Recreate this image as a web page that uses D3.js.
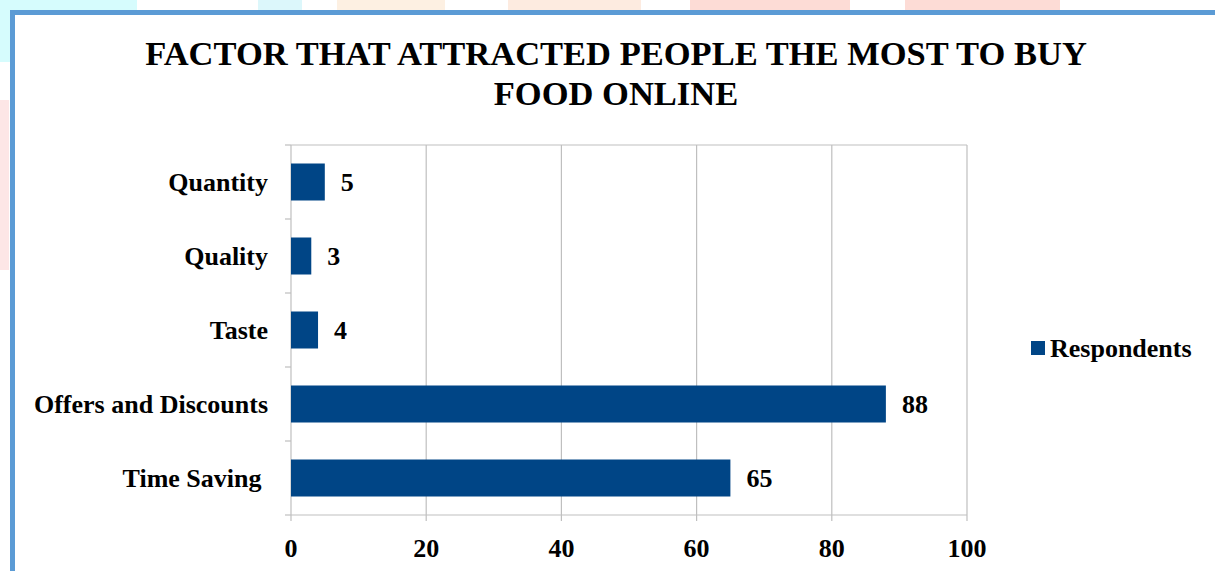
<!DOCTYPE html>
<html>
<head>
<meta charset="utf-8">
<script src="https://cdn.jsdelivr.net/npm/d3@7"></script>
<style>
  html, body { margin: 0; padding: 0; background: #ffffff; }
  svg { display: block; }
  text { font-family: "Liberation Serif", "Times New Roman", serif; font-weight: bold; fill: #000; }
</style>
</head>
<body>
<svg id="chart" width="1215" height="571"></svg>
<script>
// Chart data
const categories = ["Quantity", "Quality", "Taste", "Offers and Discounts", "Time Saving "];
const respondents = [5, 3, 4, 88, 65];
const xTicks = [0, 20, 40, 60, 80, 100];
const titleLines = ["FACTOR THAT ATTRACTED PEOPLE THE MOST TO BUY", "FOOD ONLINE"];
const seriesName = "Respondents";

const svg = d3.select("#chart");
const W = 1215, H = 571;

// faint decorative shapes peeking around the frame
const deco = [
  {x: 0, y: 0, w: 137, h: 10, c: "#d6fcfd"},
  {x: 0, y: 0, w: 10, h: 62, c: "#d6fcfd"},
  {x: 258, y: 0, w: 44, h: 10, c: "#dcf7fb"},
  {x: 337, y: 0, w: 108, h: 10, c: "#fdf0e2"},
  {x: 508, y: 0, w: 133, h: 10, c: "#fdebe0"},
  {x: 690, y: 0, w: 160, h: 10, c: "#fddcd6"},
  {x: 905, y: 0, w: 155, h: 10, c: "#fddcd6"},
  {x: 0, y: 100, w: 9, h: 170, c: "#fde6e6"}
];
svg.selectAll("rect.deco").data(deco).join("rect")
  .attr("class", "deco")
  .attr("x", d => d.x).attr("y", d => d.y)
  .attr("width", d => d.w).attr("height", d => d.h)
  .attr("fill", d => d.c);

// blue frame (top and left edges)
svg.append("rect").attr("x", 10).attr("y", 10).attr("width", W - 10).attr("height", 5).attr("fill", "#5b9bd5");
svg.append("rect").attr("x", 10).attr("y", 10).attr("width", 5).attr("height", H - 10).attr("fill", "#5b9bd5");

// title
svg.append("text")
  .attr("x", 616).attr("y", 65)
  .attr("text-anchor", "middle")
  .style("font-size", "34.5px")
  .selectAll("tspan").data(titleLines).join("tspan")
  .attr("x", 616).attr("dy", (d, i) => i === 0 ? 0 : 40)
  .text(d => d);

// plot area
const plot = {left: 291, right: 967, top: 145, bottom: 515};

const x = d3.scaleLinear().domain([0, 100]).range([plot.left, plot.right]);
const y = d3.scaleBand().domain(categories).range([plot.top, plot.bottom]).paddingInner(0.5).paddingOuter(0.25);

const grid = "#bfbfbf";

// vertical gridlines
svg.append("g").selectAll("line").data(xTicks).join("line")
  .attr("x1", d => x(d)).attr("x2", d => x(d))
  .attr("y1", plot.top).attr("y2", plot.bottom + 6)
  .attr("stroke", grid).attr("stroke-width", 1.2);

// plot top border
svg.append("line")
  .attr("x1", plot.left).attr("x2", plot.right)
  .attr("y1", plot.top).attr("y2", plot.top)
  .attr("stroke", grid).attr("stroke-width", 1.2);

// category axis ticks (band boundaries)
const bandEdges = d3.range(categories.length + 1).map(i => plot.top + i * (plot.bottom - plot.top) / categories.length);
svg.append("g").selectAll("line").data(bandEdges).join("line")
  .attr("x1", plot.left - 6).attr("x2", plot.left)
  .attr("y1", d => d).attr("y2", d => d)
  .attr("stroke", grid).attr("stroke-width", 1.2);

// bottom axis line
svg.append("line")
  .attr("x1", plot.left).attr("x2", plot.right)
  .attr("y1", plot.bottom).attr("y2", plot.bottom)
  .attr("stroke", grid).attr("stroke-width", 1.2);

// bars
svg.append("g").selectAll("rect").data(categories).join("rect")
  .attr("x", x(0))
  .attr("y", d => y(d))
  .attr("width", (d, i) => x(respondents[i]) - x(0))
  .attr("height", y.bandwidth())
  .attr("fill", "#004586");

// value labels
svg.append("g").selectAll("text").data(categories).join("text")
  .attr("x", (d, i) => x(respondents[i]) + 16)
  .attr("y", d => y(d) + y.bandwidth() / 2 + 9)
  .style("font-size", "26px")
  .text((d, i) => respondents[i]);

// category labels
svg.append("g").selectAll("text").data(categories).join("text")
  .attr("x", 268)
  .attr("y", d => y(d) + y.bandwidth() / 2 + 9)
  .attr("text-anchor", "end")
  .style("font-size", "26px")
  .style("white-space", "pre")
  .text(d => d);

// x tick labels
svg.append("g").selectAll("text").data(xTicks).join("text")
  .attr("x", d => x(d))
  .attr("y", 557)
  .attr("text-anchor", "middle")
  .style("font-size", "26px")
  .text(d => d);

// legend
svg.append("rect").attr("x", 1031).attr("y", 341).attr("width", 14).attr("height", 14).attr("fill", "#004586");
svg.append("text").attr("x", 1050).attr("y", 357).style("font-size", "26px").text(seriesName);
</script>
</body>
</html>
